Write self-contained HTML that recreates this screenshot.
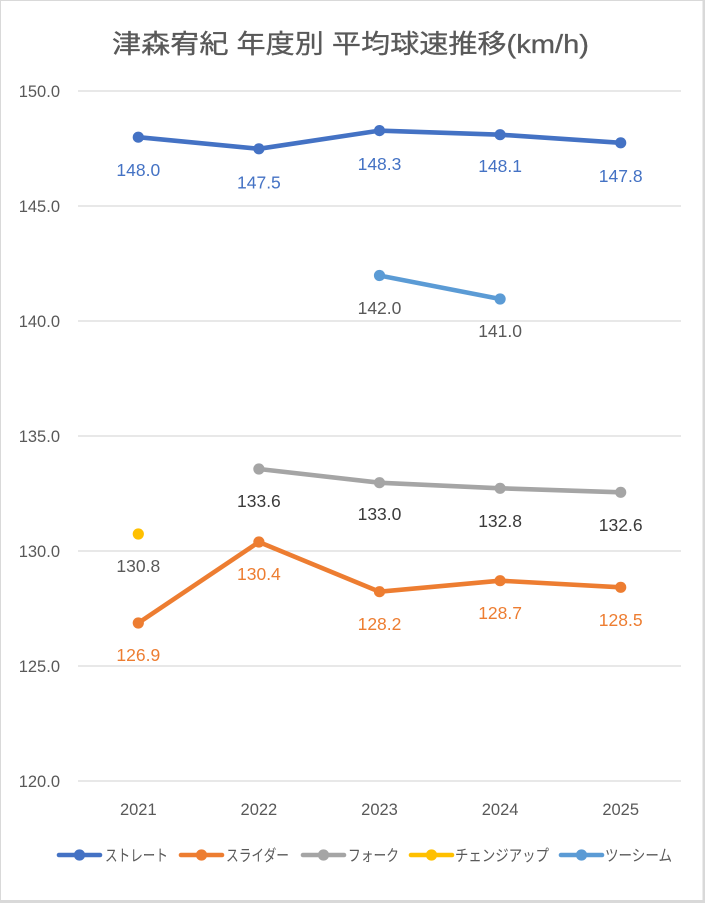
<!DOCTYPE html>
<html>
<head>
<meta charset="utf-8">
<style>
html,body{margin:0;padding:0;background:#fff;}
svg{display:block;}
text{font-family:"Liberation Sans","Noto Sans CJK JP",sans-serif;}
</style>
</head>
<body>
<svg width="705" height="903" viewBox="0 0 705 903" xmlns="http://www.w3.org/2000/svg">
  <rect x="0" y="0" width="705" height="903" fill="#d9d9d9"/>
  <rect x="1" y="1" width="701.5" height="899" fill="#ffffff"/>

  <!-- Title -->
  <text x="112" y="53" font-size="26" fill="#595959" stroke="#595959" stroke-width="0.3" textLength="477" lengthAdjust="spacingAndGlyphs">津森宥紀 年度別 平均球速推移(km/h)</text>

  <!-- Gridlines -->
  <g stroke="#d9d9d9" stroke-width="1.3">
    <line x1="78" y1="91" x2="681" y2="91"/>
    <line x1="78" y1="206" x2="681" y2="206"/>
    <line x1="78" y1="321" x2="681" y2="321"/>
    <line x1="78" y1="436" x2="681" y2="436"/>
    <line x1="78" y1="551" x2="681" y2="551"/>
    <line x1="78" y1="666" x2="681" y2="666"/>
    <line x1="78" y1="781" x2="681" y2="781"/>
  </g>

  <!-- Y axis labels -->
  <g font-size="16.5" fill="#595959" text-anchor="end">
    <text x="60" y="97">150.0</text>
    <text x="60" y="212">145.0</text>
    <text x="60" y="327">140.0</text>
    <text x="60" y="442">135.0</text>
    <text x="60" y="557">130.0</text>
    <text x="60" y="672">125.0</text>
    <text x="60" y="787">120.0</text>
  </g>

  <!-- X axis labels -->
  <g font-size="16.5" fill="#595959" text-anchor="middle">
    <text x="138.3" y="815">2021</text>
    <text x="258.9" y="815">2022</text>
    <text x="379.5" y="815">2023</text>
    <text x="500.1" y="815">2024</text>
    <text x="620.7" y="815">2025</text>
  </g>

  <!-- Straight -->
  <polyline points="138.3,137.2 258.9,148.8 379.5,130.6 500.1,134.7 620.7,142.8" fill="none" stroke="#4472C4" stroke-width="4.6" stroke-linejoin="round"/>
  <g fill="#4472C4">
    <circle cx="138.3" cy="137.2" r="5.6"/>
    <circle cx="258.9" cy="148.8" r="5.6"/>
    <circle cx="379.5" cy="130.6" r="5.6"/>
    <circle cx="500.1" cy="134.7" r="5.6"/>
    <circle cx="620.7" cy="142.8" r="5.6"/>
  </g>
  <g font-size="17.5" fill="#4472C4" text-anchor="middle">
    <text x="138.3" y="176">148.0</text>
    <text x="258.9" y="188.5">147.5</text>
    <text x="379.5" y="170">148.3</text>
    <text x="500.1" y="172">148.1</text>
    <text x="620.7" y="182">147.8</text>
  </g>

  <!-- Two-seam -->
  <polyline points="379.5,275.5 500.1,299" fill="none" stroke="#5B9BD5" stroke-width="4.6" stroke-linejoin="round"/>
  <g fill="#5B9BD5">
    <circle cx="379.5" cy="275.5" r="5.6"/>
    <circle cx="500.1" cy="299" r="5.6"/>
  </g>
  <g font-size="17.5" fill="#595959" text-anchor="middle">
    <text x="379.5" y="314">142.0</text>
    <text x="500.1" y="337">141.0</text>
  </g>

  <!-- Fork -->
  <polyline points="258.9,469 379.5,482.7 500.1,488.3 620.7,492.3" fill="none" stroke="#A5A5A5" stroke-width="4.6" stroke-linejoin="round"/>
  <g fill="#A5A5A5">
    <circle cx="258.9" cy="469" r="5.6"/>
    <circle cx="379.5" cy="482.7" r="5.6"/>
    <circle cx="500.1" cy="488.3" r="5.6"/>
    <circle cx="620.7" cy="492.3" r="5.6"/>
  </g>
  <g font-size="17.5" fill="#3a3a3a" text-anchor="middle">
    <text x="258.9" y="507">133.6</text>
    <text x="379.5" y="520">133.0</text>
    <text x="500.1" y="527">132.8</text>
    <text x="620.7" y="531">132.6</text>
  </g>

  <!-- Changeup -->
  <circle cx="138.3" cy="534" r="5.6" fill="#FFC000"/>
  <text x="138.3" y="572" font-size="17.5" fill="#595959" text-anchor="middle">130.8</text>

  <!-- Slider -->
  <polyline points="138.3,623 258.9,542 379.5,591.7 500.1,580.7 620.7,587.3" fill="none" stroke="#ED7D31" stroke-width="4.6" stroke-linejoin="round"/>
  <g fill="#ED7D31">
    <circle cx="138.3" cy="623" r="5.6"/>
    <circle cx="258.9" cy="542" r="5.6"/>
    <circle cx="379.5" cy="591.7" r="5.6"/>
    <circle cx="500.1" cy="580.7" r="5.6"/>
    <circle cx="620.7" cy="587.3" r="5.6"/>
  </g>
  <g font-size="17.5" fill="#ED7D31" text-anchor="middle">
    <text x="138.3" y="661">126.9</text>
    <text x="258.9" y="580">130.4</text>
    <text x="379.5" y="630">128.2</text>
    <text x="500.1" y="619">128.7</text>
    <text x="620.7" y="626">128.5</text>
  </g>

  <!-- Legend -->
  <g stroke-width="4.6" stroke-linecap="round">
    <line x1="59" y1="855" x2="100" y2="855" stroke="#4472C4"/>
    <line x1="181" y1="855" x2="222" y2="855" stroke="#ED7D31"/>
    <line x1="303" y1="855" x2="344" y2="855" stroke="#A5A5A5"/>
    <line x1="411" y1="855" x2="452" y2="855" stroke="#FFC000"/>
    <line x1="561" y1="855" x2="602" y2="855" stroke="#5B9BD5"/>
  </g>
  <circle cx="79.5" cy="855" r="5.6" fill="#4472C4"/>
  <circle cx="201.5" cy="855" r="5.6" fill="#ED7D31"/>
  <circle cx="323.5" cy="855" r="5.6" fill="#A5A5A5"/>
  <circle cx="431.5" cy="855" r="5.6" fill="#FFC000"/>
  <circle cx="581.5" cy="855" r="5.6" fill="#5B9BD5"/>
  <g font-size="16" fill="#595959">
    <text x="105" y="861" textLength="63" lengthAdjust="spacingAndGlyphs">ストレート</text>
    <text x="226" y="861" textLength="63" lengthAdjust="spacingAndGlyphs">スライダー</text>
    <text x="348" y="861" textLength="51" lengthAdjust="spacingAndGlyphs">フォーク</text>
    <text x="455" y="861" textLength="94" lengthAdjust="spacingAndGlyphs">チェンジアップ</text>
    <text x="605" y="861" textLength="67" lengthAdjust="spacingAndGlyphs">ツーシーム</text>
  </g>
</svg>
</body>
</html>
